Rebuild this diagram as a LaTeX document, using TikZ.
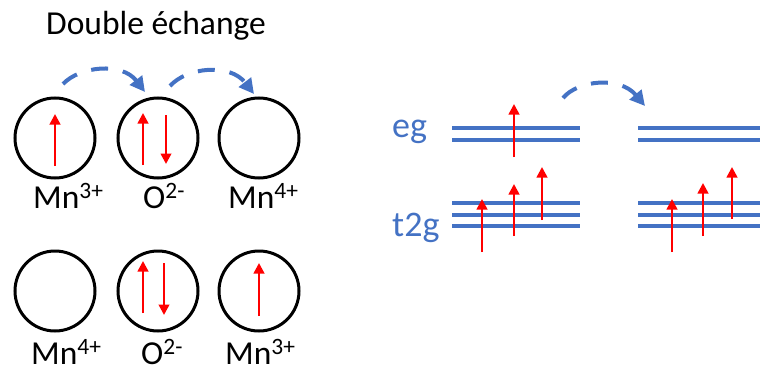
\documentclass[tikz,border=0pt]{standalone}
\usepackage{fontspec}
\setmainfont{Carlito}
\usetikzlibrary{arrows.meta}
\definecolor{obl}{HTML}{4472C4}
\definecolor{ored}{HTML}{FF0000}
\begin{document}
\begin{tikzpicture}[x=1pt,y=-1pt,
  atom/.style={circle,draw=black,line width=3pt,minimum size=80pt,inner sep=0pt},
  lbl/.style={anchor=base west,inner sep=0pt,font=\fontsize{33.5}{40}\selectfont},
  orb/.style={anchor=base west,inner sep=0pt,text=obl,font=\fontsize{36}{43}\selectfont},
  spin/.style={draw=ored,line width=2.5pt,-{Triangle[length=10.5pt,width=10.5pt]}},
  hop/.style={draw=obl,line width=4pt,dash pattern=on 17pt off 15pt,-{Triangle[length=15pt,width=15pt]}},
  level/.style={draw=obl,line width=3.2pt}]
\useasboundingbox (0,0) rectangle (763,369);
% title
\node[lbl] (title) at (46,35) {Double échange};
% top row
\node[atom] (a1) at (55,138) {};
\node[atom] (a2) at (158,138) {};
\node[atom] (a3) at (259,138) {};
\node[lbl] (l1) at (33,208) {Mn\textsuperscript{3+}};
\node[lbl] (l2) at (143,208) {O\textsuperscript{2-}};
\node[lbl] (l3) at (228,208) {Mn\textsuperscript{4+}};
% bottom row
\node[atom] (b1) at (55,291) {};
\node[atom] (b2) at (158,291) {};
\node[atom] (b3) at (259,291) {};
\node[lbl] (m1) at (31,364) {Mn\textsuperscript{4+}};
\node[lbl] (m2) at (141,364) {O\textsuperscript{2-}};
\node[lbl] (m3) at (225,364) {Mn\textsuperscript{3+}};
% spins in atoms
\draw[spin] (55,166) -- (55,114);
\draw[spin] (143,165) -- (143,113);
\draw[spin] (166,115) -- (166,164);
\draw[spin] (143,313) -- (143,261);
\draw[spin] (164,263) -- (164,315);
\draw[spin] (259,316) -- (259,263);
% hops on left
\coordinate (h1s) at (63,84);
\coordinate (h1e) at (145,92);
\coordinate (h2s) at (170,86);
\coordinate (h2e) at (254,94);
\draw[hop] (h1s) .. controls (80,66) and (122,62) .. (h1e);
\draw[hop] (h2s) .. controls (187,67) and (230,63) .. (h2e);
% orbital labels
\node[orb] (eg) at (392,137) {eg};
\node[orb] (t2g) at (392,236) {t2g};
% levels
\foreach \yy in {128,140,203,215,226}{
  \draw[level] (452,\yy) -- (580,\yy);
  \draw[level] (638,\yy) -- (760,\yy);
}
% spins in levels
\draw[spin] (514,157) -- (514,104);
\draw[spin] (482,252) -- (482,199);
\draw[spin] (514,236) -- (514,184);
\draw[spin] (542,220) -- (542,167);
\draw[spin] (672,252) -- (672,199);
\draw[spin] (703,236) -- (703,183);
\draw[spin] (732,219) -- (732,167);
% hop on right
\coordinate (h3s) at (563,98);
\coordinate (h3e) at (645,106);
\draw[hop] (h3s) .. controls (578,80) and (620,76) .. (h3e);
\end{tikzpicture}
\end{document}
